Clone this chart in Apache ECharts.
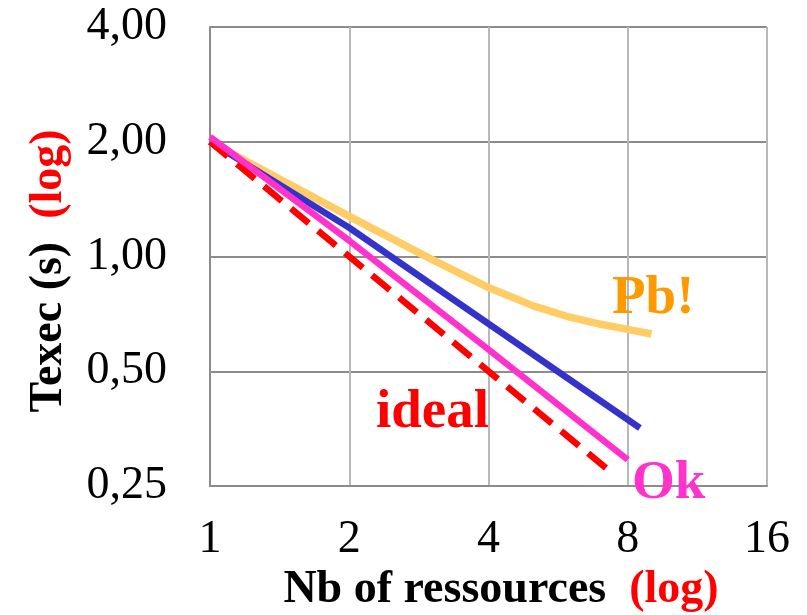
<!DOCTYPE html>
<html>
<head>
<meta charset="utf-8">
<script src="https://cdn.jsdelivr.net/npm/echarts@6/dist/echarts.min.js"></script>
<style>html,body{margin:0;padding:0;background:#fff}#c{width:807px;height:615px}</style>
</head>
<body>
<div id="c"></div>
<script>
// Data
var xTicks = [1, 2, 4, 8, 16];
var yTicks = [0.25, 0.5, 1, 2, 4];

var pbX = [1, 2, 3, 4, 5, 6, 7, 8, 9];
var pbY = [2.0, 1.274, 0.986, 0.829, 0.742, 0.693, 0.664, 0.644, 0.626];

var blueX = [1, 2, 4, 8.5];
var blueY = [2.0, 1.19, 0.666, 0.355];

var idealX = [1, 2, 4, 7.25];
var idealY = [2.0, 1.0, 0.5, 0.276];

var okX = [1, 2, 4, 8];
var okY = [2.06, 1.1, 0.57, 0.293];

function pairs(xs, ys) { return xs.map(function (x, i) { return [x, ys[i]]; }); }

var FONT = "'Liberation Serif', 'Times New Roman', serif";
var chart = echarts.init(document.getElementById('c'), null, {renderer: 'canvas'});

chart.setOption({
  animation: false,
  backgroundColor: '#ffffff',
  grid: {left: 210, right: 40, top: 27, bottom: 129, containLabel: false},
  xAxis: {
    type: 'log', logBase: 2, min: xTicks[0], max: xTicks[xTicks.length - 1], interval: 1,
    axisLine: {show: true, lineStyle: {color: '#8c8c8c', width: 2}},
    axisTick: {show: false},
    axisLabel: {color: '#000', fontFamily: FONT, fontSize: 46, margin: 31,
      formatter: function (v) { return String(Math.round(v)); }},
    splitLine: {show: true, lineStyle: {color: '#b8b8b8', width: 2}}
  },
  yAxis: {
    type: 'log', logBase: 2, min: yTicks[0], max: yTicks[yTicks.length - 1], interval: 1,
    axisLine: {show: true, lineStyle: {color: '#8c8c8c', width: 2}},
    axisTick: {show: false},
    axisLabel: {color: '#000', fontFamily: FONT, fontSize: 46, margin: 43,
      formatter: function (v) { return (Math.round(v * 100) / 100).toFixed(2).replace('.', ','); }},
    splitLine: {show: true, lineStyle: {color: '#8c8c8c', width: 2}}
  },
  series: [
    {name: 'Pb', type: 'line', data: pairs(pbX, pbY), smooth: false, showSymbol: false, z: 2,
      lineStyle: {color: '#ffcc66', width: 7.5, join: 'round'}},
    {name: 'blue', type: 'line', data: pairs(blueX, blueY), showSymbol: false, z: 3,
      lineStyle: {color: '#3333cc', width: 6.5}},
    {name: 'ideal', type: 'line', data: pairs(idealX, idealY), showSymbol: false, z: 4,
      lineStyle: {color: '#ff0000', width: 6.5, type: [23, 12]}},
    {name: 'Ok', type: 'line', data: pairs(okX, okY), showSymbol: false, z: 5,
      lineStyle: {color: '#ff33cc', width: 6.5}}
  ],
  graphic: [
    {type: 'text', x: 612, y: 299, z: 10, style: {text: 'Pb!', fill: '#ff9900',
      font: 'bold 55px ' + FONT, align: 'left', verticalAlign: 'middle'}},
    {type: 'text', x: 376, y: 413, z: 10, style: {text: 'ideal', fill: '#ff0000',
      font: 'bold 55px ' + FONT, align: 'left', verticalAlign: 'middle'}},
    {type: 'text', x: 632, y: 484, z: 10, style: {text: 'Ok', fill: '#ff33cc',
      font: 'bold 55px ' + FONT, align: 'left', verticalAlign: 'middle'}},
    {type: 'text', x: 501, y: 590, z: 10, style: {
      text: '{a|Nb of ressources}{a|  }{b|(log)}', align: 'center', verticalAlign: 'middle',
      rich: {a: {fill: '#000', font: 'bold 46px ' + FONT}, b: {fill: '#ff0000', font: 'bold 46px ' + FONT}}}},
    {type: 'text', x: 49, y: 271, rotation: Math.PI / 2, z: 10, style: {
      text: '{a|Texec (s)}{a|  }{b|(log)}', align: 'center', verticalAlign: 'middle',
      rich: {a: {fill: '#000', font: 'bold 46px ' + FONT}, b: {fill: '#ff0000', font: 'bold 46px ' + FONT}}}}
  ]
});
</script>
</body>
</html>
